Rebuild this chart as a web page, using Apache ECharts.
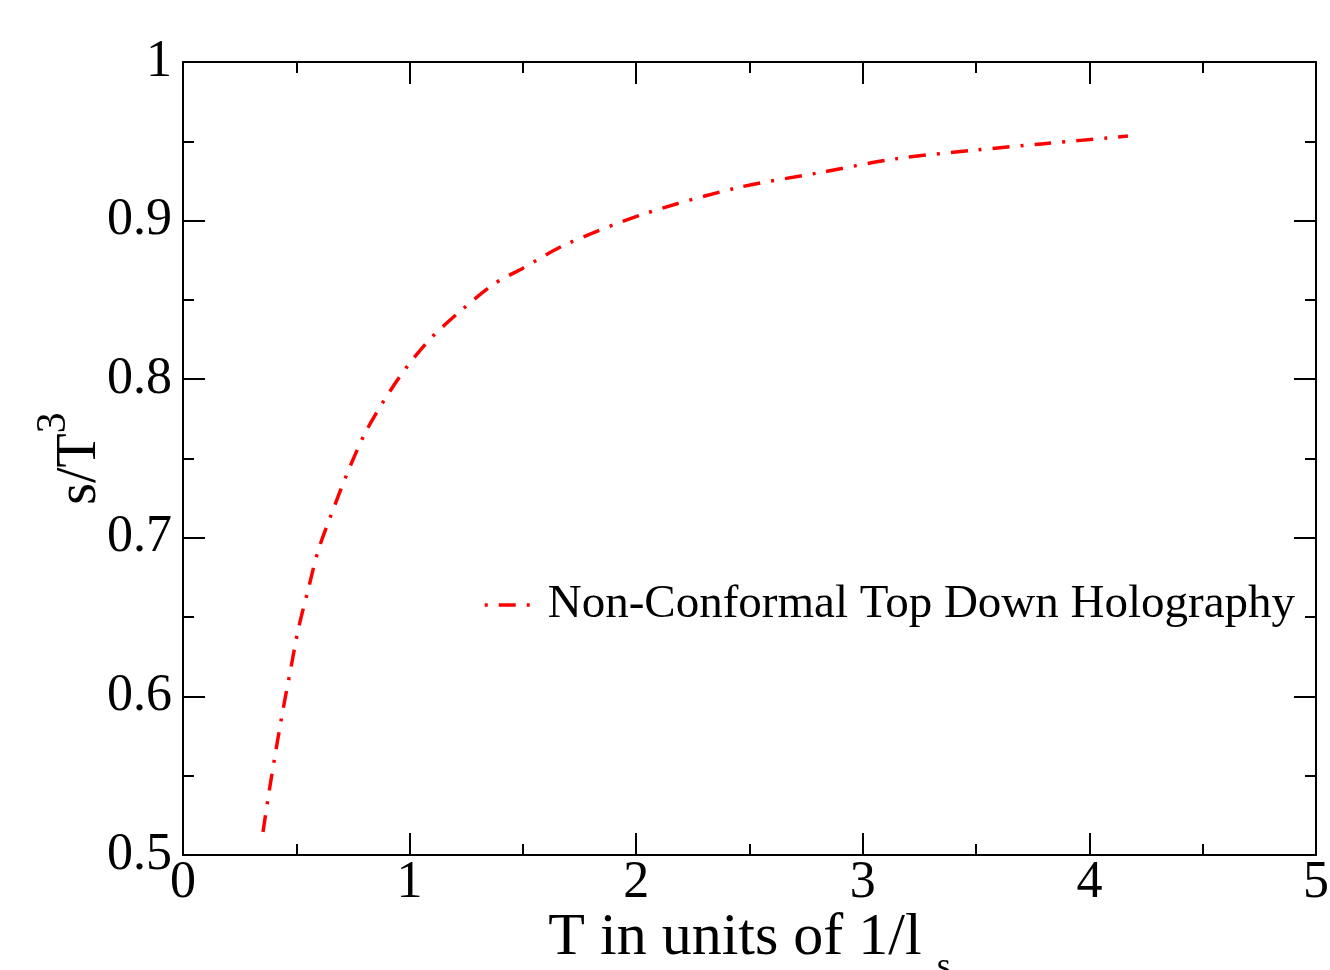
<!DOCTYPE html>
<html>
<head>
<meta charset="utf-8">
<script src="https://cdn.jsdelivr.net/npm/echarts@6/dist/echarts.min.js"></script>
<style>
  html, body { margin: 0; padding: 0; background: #fff; }
</style>
</head>
<body>
<div id="myChart" style="width:1330px;height:970px;"></div>
<script>
// T in units of 1/l_s
var tValues = [0.353, 0.38, 0.41, 0.441, 0.475, 0.508, 0.55, 0.596, 0.65, 0.723, 0.8, 0.883, 0.984,
  1.099, 1.233, 1.372, 1.5, 1.69, 2.03, 2.443, 2.8, 3.142, 3.5, 3.8, 4.17];
// s/T^3
var sValues = [0.5145, 0.540, 0.566, 0.5914, 0.617, 0.6419, 0.666, 0.6917, 0.713, 0.740, 0.765, 0.7856, 0.807,
  0.8266, 0.844, 0.860, 0.870, 0.885, 0.904, 0.9206, 0.930, 0.9389, 0.9445, 0.9485, 0.9533];
var seriesName = "Non-Conformal Top Down Holography";
var xTicks = { min: 0, max: 5, interval: 1 };
var yTicks = { min: 0.5, max: 1, interval: 0.1 };

var font = "Liberation Serif, Times New Roman, serif";

function axisBase(pos, showLabel) {
  return {
    type: "value",
    position: pos,
    axisLine: { show: true, onZero: false, lineStyle: { color: "#000", width: 2 } },
    axisTick: { show: true, inside: true, length: 22, lineStyle: { color: "#000", width: 2 } },
    minorTick: { show: true, splitNumber: 2, length: 11, lineStyle: { color: "#000", width: 2 } },
    splitLine: { show: false },
    axisLabel: {
      show: showLabel,
      color: "#000",
      fontFamily: font,
      fontSize: 52
    }
  };
}

let myChart = echarts.init(document.getElementById("myChart"));

let pts = [];
for (let i = 0; i < tValues.length; i++) {
  pts.push([tValues[i], sValues[i]]);
}

// 横轴标题，带下标 s
let xBottom = Object.assign(axisBase("bottom", true), xTicks, {
  name: "{a|T in units of 1/l}{s|s}",
  nameLocation: "middle",
  nameGap: 53,
  nameMoveOverlap: false,
  nameTextStyle: {
    rich: {
      a: { fontFamily: font, fontSize: 60, color: "#000", verticalAlign: "top" },
      s: { fontFamily: font, fontSize: 36, color: "#000", verticalAlign: "bottom", padding: [42, 0, 0, 15] }
    }
  }
});
xBottom.axisLabel.margin = 2;

let xTop = Object.assign(axisBase("top", false), xTicks);

// 纵轴标题，带上标 3
let yLeft = Object.assign(axisBase("left", true), yTicks, {
  name: "{a|s/T}{b|3}",
  nameLocation: "middle",
  nameGap: 75,
  nameMoveOverlap: false,
  nameTextStyle: {
    rich: {
      a: { fontFamily: font, fontSize: 56, color: "#000", verticalAlign: "bottom", padding: [19, 0, 0, 0] },
      b: { fontFamily: font, fontSize: 42, color: "#000", verticalAlign: "top" }
    }
  }
});
yLeft.axisLabel.margin = 11;

let yRight = Object.assign(axisBase("right", false), yTicks);

let option = {
  animation: false,
  backgroundColor: "#fff",
  grid: { left: 183, right: 14, top: 62, bottom: 115, containLabel: false, outerBoundsMode: "none" },
  legend: {
    left: 478,
    top: 576,
    itemWidth: 45,
    itemHeight: 14,
    selectedMode: false,
    itemStyle: { color: "rgba(0,0,0,0)", borderWidth: 0 },
    lineStyle: { type: [17, 11, 3, 11], dashOffset: 28, width: 3.5 },
    textStyle: {
      color: "#000",
      fontFamily: font,
      fontSize: 47,
      lineHeight: 48,
      padding: [0, 0, 0, 13]
    },
    data: [seriesName]
  },
  xAxis: [xBottom, xTop],
  yAxis: [yLeft, yRight],
  series: [
    {
      name: seriesName,
      type: "line",
      xAxisIndex: 0,
      yAxisIndex: 0,
      data: pts,
      smooth: 0.3,
      symbol: "none",
      showSymbol: false,
      lineStyle: { color: "#ff0000", width: 3.5, type: [17, 11, 3, 11] },
      itemStyle: { color: "#ff0000" }
    }
  ]
};

myChart.setOption(option, true);
</script>
</body>
</html>
